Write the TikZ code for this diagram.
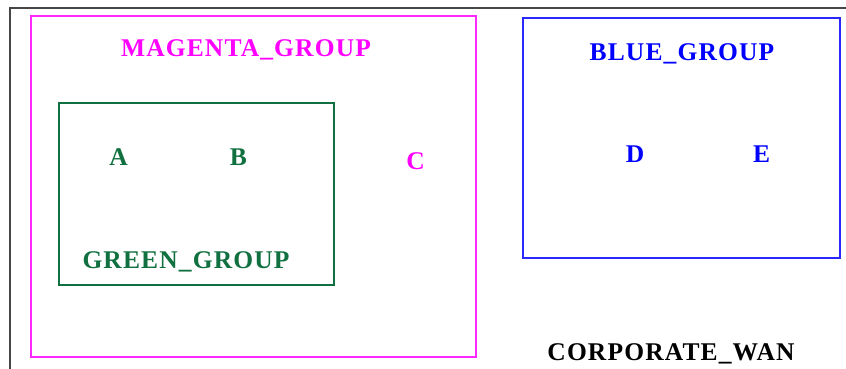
\documentclass[tikz,border=0pt]{standalone}
\usepackage{fontspec}
\setmainfont{Liberation Serif}
\newfontfamily\lblfont[LetterSpace=4.5]{Liberation Serif}
\definecolor{frame}{RGB}{70,70,70}
\definecolor{mag}{RGB}{255,0,255}
\definecolor{magline}{RGB}{255,40,255}
\definecolor{grn}{RGB}{16,112,64}
\definecolor{blu}{RGB}{0,0,255}
\definecolor{bluline}{RGB}{40,40,255}
\begin{document}
\begin{tikzpicture}[x=1pt,y=-1pt,
  lbl/.style={font=\lblfont\fontsize{25.5}{30}\selectfont\bfseries, inner sep=0pt, anchor=base},
  grpbox/.style={draw, inner sep=0pt, line width=1.4pt}]
\useasboundingbox (0,0) rectangle (846,369);
\fill[white] (0,0) rectangle (846,369);
\draw[frame, line width=2pt] (10,369) -- (10,8) -- (846,8);
\node[grpbox, magline, line width=1.6pt, minimum width=445pt, minimum height=341pt] (magbox) at (253.5,186.5) {};
\node[grpbox, grn, line width=1.2pt, minimum width=275pt, minimum height=182pt] (grnbox) at (196.5,194) {};
\node[grpbox, bluline, line width=1.2pt, minimum width=317pt, minimum height=240pt] (blubox) at (681.5,138) {};
\node[lbl, mag] (maglbl) at (246,57) {MAGENTA\_GROUP};
\node[lbl, blu] (blulbl) at (682,60) {BLUE\_GROUP};
\node[lbl, grn] (grnlbl) at (186,268) {GREEN\_GROUP};
\node[lbl, grn] (A) at (118.5,165) {A};
\node[lbl, grn] (B) at (238.5,165) {B};
\node[lbl, mag] (C) at (415.5,169) {C};
\node[lbl, blu] (D) at (635,162) {D};
\node[lbl, blu] (E) at (761.5,162) {E};
\node[lbl, black] (wan) at (671,360) {CORPORATE\_WAN};
\end{tikzpicture}
\end{document}
